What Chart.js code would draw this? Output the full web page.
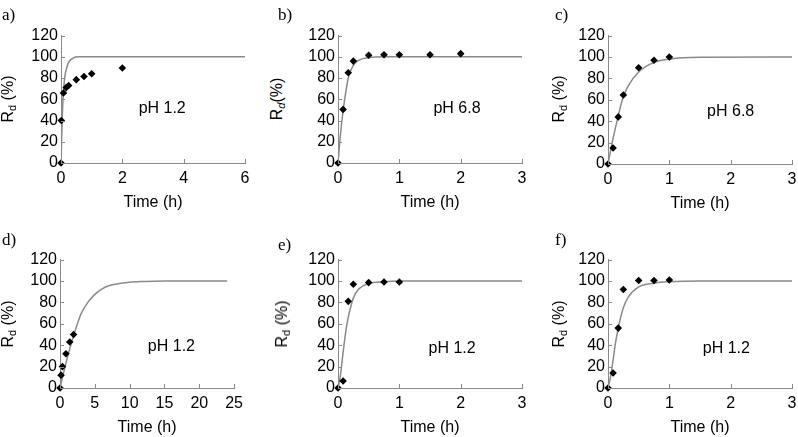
<!DOCTYPE html>
<html>
<head>
<meta charset="utf-8">
<script src="https://cdn.jsdelivr.net/npm/chart.js@4.4.1/dist/chart.umd.min.js"></script>
<style>
  body { margin: 0; background: #fff; overflow: hidden; }
  #wrap { position: relative; width: 798px; height: 437px; }
  canvas { position: absolute; }
  .tag { position: absolute; font: 17px "Liberation Serif", "Times New Roman", serif; line-height: 1; }
  .ytitle { position: absolute; font: 16px "Liberation Sans", Arial, sans-serif; white-space: nowrap;
            transform: translate(-50%, -50%) rotate(-90deg); line-height: 1; }
  .ytitle sub { font-size: 11px; vertical-align: -3px; }
</style>
</head>
<body>
<div id="wrap">
  <canvas id="pa"></canvas>
  <canvas id="pb"></canvas>
  <canvas id="pc"></canvas>
  <canvas id="pd"></canvas>
  <canvas id="pe"></canvas>
  <canvas id="pf"></canvas>

  <div class="tag" style="left:2px;top:6px">a)</div>
  <div class="tag" style="left:278px;top:6px">b)</div>
  <div class="tag" style="left:555px;top:6px">c)</div>
  <div class="tag" style="left:2px;top:231px">d)</div>
  <div class="tag" style="left:278px;top:236px">e)</div>
  <div class="tag" style="left:555px;top:231px">f)</div>

  <div class="ytitle" style="left:9px;top:99px">R<sub>d</sub> (%)</div>
  <div class="ytitle" style="left:278px;top:99px">R<sub><i>d</i></sub>(%)</div>
  <div class="ytitle" style="left:560px;top:99px">R<sub>d</sub> (%)</div>
  <div class="ytitle" style="left:9px;top:324px">R<sub>d</sub> (%)</div>
  <div class="ytitle" style="left:283px;top:324px">R<sub>d</sub> (%)</div>
  <div class="ytitle" style="left:560px;top:324px">R<sub>d</sub> (%)</div>
</div>
<script>
// measured points (time in h, Rd in %)
const tA = [0, 0.01, 0.08, 0.17, 0.25, 0.5, 0.75, 1, 2];
const rdA = [0, 40, 66, 71, 73, 78.5, 81.5, 84, 89.5];
const tB = [0, 0.083, 0.167, 0.25, 0.5, 0.75, 1, 1.5, 2];
const rdB = [0, 50.5, 85, 96, 101.5, 102, 102, 102, 103];
const tC = [0, 0.083, 0.167, 0.25, 0.5, 0.75, 1];
const rdC = [0, 15, 44, 64.5, 90, 97, 100];
const tD = [0, 0.15, 0.35, 0.85, 1.4, 1.95];
const rdD = [0, 12, 20, 32, 43, 50];
const tE = [0, 0.083, 0.167, 0.25, 0.5, 0.75, 1];
const rdE = [0, 6.5, 81, 97, 98.5, 99, 99];
const tF = [0, 0.083, 0.167, 0.25, 0.5, 0.75, 1];
const rdF = [0, 14, 56, 92, 100.5, 100.5, 101];

// model curves
const ctA = [0, 0.03, 0.056, 0.09, 0.133, 0.19, 0.244, 0.39, 0.6, 6];
const cA = [0, 32, 55, 71, 83, 90, 94.5, 98.8, 100, 100];
const ctB = [0, 0.04, 0.083, 0.125, 0.167, 0.25, 0.33, 0.5, 0.75, 3];
const cB = [0, 27, 49, 66, 80, 92, 96.5, 99.3, 100, 100];
const ctC = [0, 0.083, 0.167, 0.25, 0.33, 0.5, 0.75, 1, 1.5, 3];
const cC = [0, 24, 45, 63, 73, 86, 95, 98, 99.7, 100];
const ctD = [0, 0.5, 1, 1.5, 2, 2.5, 3, 4, 5, 6, 7, 8, 10, 12, 15, 24];
const cD = [0, 14, 27, 39, 50, 60, 69, 80, 87.5, 92.5, 95.5, 97, 98.8, 99.5, 100, 100];
const ctE = [0, 0.04, 0.083, 0.125, 0.167, 0.25, 0.33, 0.5, 0.75, 1, 3];
const cE = [0, 12, 33, 52, 66, 84, 92, 97.5, 99.3, 100, 100];
const ctF = [0, 0.04, 0.083, 0.125, 0.167, 0.25, 0.33, 0.5, 0.75, 1, 1.5, 3];
const cF = [0, 10, 26, 43, 56, 75, 85, 94.5, 98, 99.3, 100, 100];

// axis ranges
const xMax = { a: 6, b: 3, c: 3, d: 25, e: 3, f: 3 };
const xStep = { a: 2, b: 1, c: 1, d: 5, e: 1, f: 1 };
const yMax = 120;
const yStep = 20;

const axisColor = '#8a8a8a';
Chart.defaults.font.family = '"Liberation Sans", Arial, sans-serif';
Chart.defaults.font.size = 16;
Chart.defaults.color = '#000';

const Y_W = 50, PAD_T = 10, X_H = 49, PAD_R = 12;

// ticks pointing inside plus the pH note
const innerTicks = {
    id: 'innerTicks',
    afterDraw(chart, args, opts) {
        const { ctx, chartArea } = chart;
        const x = chart.scales.x, y = chart.scales.y;
        ctx.save();
        ctx.strokeStyle = axisColor;
        ctx.lineWidth = 1;
        ctx.beginPath();
        x.ticks.forEach(t => {
            const px = Math.round(x.getPixelForValue(t.value)) + 0.5;
            ctx.moveTo(px, chartArea.bottom);
            ctx.lineTo(px, chartArea.bottom - 4);
        });
        y.ticks.forEach(t => {
            const py = Math.round(y.getPixelForValue(t.value)) + 0.5;
            ctx.moveTo(chartArea.left, py);
            ctx.lineTo(chartArea.left + 4, py);
        });
        ctx.stroke();
        ctx.fillStyle = '#000';
        ctx.font = '16px "Liberation Sans", Arial, sans-serif';
        ctx.textAlign = 'center';
        ctx.textBaseline = 'middle';
        ctx.fillText(opts.label, x.getPixelForValue(opts.lx), y.getPixelForValue(opts.ly));
        ctx.restore();
    }
};

function pairs(xs, ys) {
    return xs.map((v, i) => ({ x: v, y: ys[i] }));
}

function panel(id, key, area, pts, curve, note) {
    const cv = document.getElementById(id);
    const w = Y_W + area.w + PAD_R;
    const h = PAD_T + area.h + X_H;
    cv.width = w;
    cv.height = h;
    cv.style.width = w + 'px';
    cv.style.height = h + 'px';
    cv.style.left = (area.l - Y_W) + 'px';
    cv.style.top = (area.t - PAD_T) + 'px';

    new Chart(cv, {
        type: 'scatter',
        data: {
            datasets: [{
                data: pts,
                pointStyle: 'rectRot',
                pointRadius: 3.8,
                backgroundColor: '#000',
                borderColor: '#000',
                borderWidth: 0,
                clip: false
            }, {
                data: curve,
                showLine: true,
                pointRadius: 0,
                borderColor: '#8a8a8a',
                borderWidth: 1.5,
                cubicInterpolationMode: 'monotone'
            }]
        },
        options: {
            responsive: false,
            animation: false,
            layout: { padding: { top: PAD_T, right: PAD_R, left: 0, bottom: 0 } },
            plugins: {
                legend: { display: false },
                tooltip: { enabled: false },
                innerTicks: note
            },
            scales: {
                x: {
                    type: 'linear',
                    min: 0,
                    max: xMax[key],
                    afterFit: s => { s.height = X_H; },
                    ticks: { stepSize: xStep[key], padding: 6, maxRotation: 0, autoSkip: false },
                    grid: { display: false, drawTicks: false },
                    border: { display: true, color: axisColor, width: 1 },
                    title: { display: true, text: 'Time (h)', padding: 0 }
                },
                y: {
                    min: 0,
                    max: yMax,
                    afterFit: s => { s.width = Y_W; },
                    ticks: { stepSize: yStep, padding: 3, autoSkip: false },
                    grid: { display: false, drawTicks: false },
                    border: { display: true, color: axisColor, width: 1 }
                }
            }
        },
        plugins: [innerTicks]
    });
}

panel('pa', 'a', { l: 61, t: 33, w: 184, h: 130 }, pairs(tA, rdA), pairs(ctA, cA), { label: 'pH 1.2', lx: 3.3, ly: 51 });
panel('pb', 'b', { l: 338, t: 33, w: 184, h: 130 }, pairs(tB, rdB), pairs(ctB, cB), { label: 'pH 6.8', lx: 1.94, ly: 51 });
panel('pc', 'c', { l: 608, t: 33, w: 184, h: 131 }, pairs(tC, rdC), pairs(ctC, cC), { label: 'pH 6.8', lx: 2.0, ly: 49 });
panel('pd', 'd', { l: 60, t: 257, w: 177, h: 131 }, pairs(tD, rdD), pairs(ctD, cD), { label: 'pH 1.2', lx: 16, ly: 39 });
panel('pe', 'e', { l: 338, t: 257, w: 184, h: 131 }, pairs(tE, rdE), pairs(ctE, cE), { label: 'pH 1.2', lx: 1.86, ly: 37 });
panel('pf', 'f', { l: 608, t: 257, w: 184, h: 131 }, pairs(tF, rdF), pairs(ctF, cF), { label: 'pH 1.2', lx: 1.93, ly: 37 });
</script>
</body>
</html>
